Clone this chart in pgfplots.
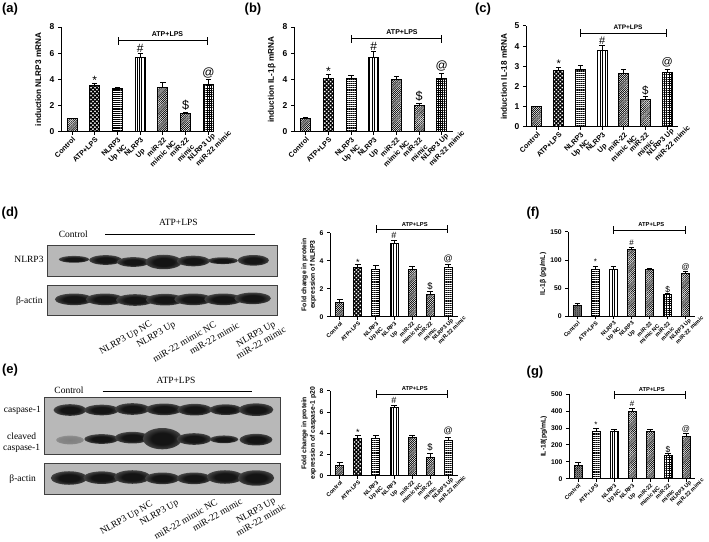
\documentclass[border=0pt]{standalone}
\usepackage{fontspec}
\setmainfont{Liberation Sans}
\newfontfamily\serifb{Liberation Serif}
\usepackage{pgfplots}
\pgfplotsset{compat=1.18}
\usetikzlibrary{patterns.meta}
\newcommand\fs[2]{\fontsize{#1}{#2}\selectfont}
% two-line tick label: the block is as wide as its first line, the second line centred under it
\newcommand\twol[2]{\setbox0=\hbox{#1}\vbox{\hbox to\wd0{#1}\hbox to\wd0{\hss #2\hss}}}
\newcommand\twols[2]{\setbox0=\hbox{#1}\vbox{\hbox to\dimexpr\wd0-.7em\relax{#1\hss}\hbox to\dimexpr\wd0-.7em\relax{\hss\kern2.9em #2\hss}}}
\definecolor{blotbg}{gray}{0.72}
\definecolor{blotdk}{gray}{0.08}
\pgfdeclareradialshading{band}{\pgfpoint{0bp}{0bp}}{color(0bp)=(blotdk);color(14bp)=(blotdk);color(28bp)=(blotdk!65!blotbg);color(40bp)=(blotdk!18!blotbg);color(50bp)=(blotbg);color(100bp)=(blotbg)}
\pgfdeclareradialshading{bandlt}{\pgfpoint{0bp}{0bp}}{color(0bp)=(blotdk!35!blotbg);color(20bp)=(blotdk!30!blotbg);color(50bp)=(blotbg);color(100bp)=(blotbg)}
\newcommand\band[4]{\path[shading=band] (#1/3,#2/3) ellipse ({#3/3*1.3} and {#4/3*1.45});}
\newcommand\bandlt[4]{\path[shading=bandlt] (#1/3,#2/3) ellipse ({#3/3*1.3} and {#4/3*1.45});}
\pgfplotsset{
 diag/.style={pattern={Lines[angle=45,distance=1.5pt,line width=.7pt]},pattern color=black},
 diagd/.style={pattern={Lines[angle=45,distance=1.4pt,line width=.9pt]},pattern color=black},
 chk/.style={pattern={Hatch[angle=45,distance=2.8pt,line width=1.2pt]},pattern color=black},
 hor/.style={pattern={Lines[angle=0,distance=1.9pt,line width=.4pt]},pattern color=black},
 ver/.style={pattern={Lines[angle=90,distance=2.4pt,line width=.5pt]},pattern color=black},
 grd/.style={pattern={Hatch[angle=0,distance=2.2pt,line width=.5pt]},pattern color=black},
 bb/.style={ybar,bar shift=0pt,draw=black,line width=1pt,error bars/.cd,y dir=plus,y explicit,
   error bar style={line width=1pt,black},error mark options={rotate=90,mark size=2.6pt,line width=1pt,black}},
 common/.style={scale only axis,axis x line=bottom,axis y line=left,
   axis line style={-,line width=1pt,black},tick align=outside,major tick length=3pt,
   every tick/.style={black,line width=1pt},xtick={0,1,2,3,4,5,6},
   xticklabels={Control,ATP+LPS,{\twol{NLRP3}{Up NC}},{\twol{NLRP3}{Up}},{\twol{miR-22}{mimic NC}},{\twol{miR-22}{mimic}},{\twols{NLRP3 Up}{miR-22 mimic}}},
   x tick label style={rotate=45,anchor=north east,inner sep=1pt},
   ymin=0,clip=false,enlargelimits=false,
   /pgf/number format/assume math mode=true,scaled y ticks=false},
 big/.style={common,bar width=10pt,
   tick label style={font=\bfseries\fs{7.2}{9.2}},
   y tick label style={font=\bfseries\fs{8.5}{9}},
   ylabel style={font=\bfseries\fs{8.2}{10}}},
 small/.style={common,bar width=8pt,
   x tick label style={font=\bfseries\fs{5.6}{7}},
   y tick label style={font=\bfseries\fs{6.8}{8}},
   ylabel style={font=\bfseries\fs{6.8}{8.6},align=center}},
}
\newcommand\atp[4]{%
 \draw[line width=1pt,|-|] (axis cs:2,#2)--(axis cs:6,#2);
 \node[font=\bfseries\fs{#4}{#4}] at (axis cs:#1,#3) {ATP+LPS};}
\newcommand\sym[5]{%
 \node[font=\fs{#1}{#1}] at (axis cs:1,#2) {*};
 \node[font=\fs{#1}{#1}] at (axis cs:3,#3) {\#};
 \node[font=\fs{#1}{#1},scale=1.05] at (axis cs:5,#4) {\$};
 \node[font=\fs{#1}{#1}] at (axis cs:6,#5) {@};}
\begin{document}
\begin{tikzpicture}[x=1pt,y=1pt]
\path[use as bounding box] (0,0) rectangle (709,541);
% ---------- (a)
\begin{axis}[big,at={(61pt,409pt)},width=152pt,height=105pt,xmin=-0.485,xmax=6.2,ymax=8,ytick={0,2,4,6,8},
  ylabel={induction NLRP3 mRNA},ylabel style={at={(axis description cs:-0.15,0.5)},anchor=center}]
\addplot[diag,bb] coordinates {(0,1) +- (0,0.05)};
\addplot[chk,bb] coordinates {(1,3.55) +- (0,0.15)};
\addplot[hor,bb] coordinates {(2,3.35) +- (0,0.05)};
\addplot[ver,bb] coordinates {(3,5.65) +- (0,0.3)};
\addplot[diag,bb] coordinates {(4,3.4) +- (0,0.35)};
\addplot[diag,bb] coordinates {(5,1.4) +- (0,0.05)};
\addplot[grd,bb] coordinates {(6,3.65) +- (0,0.35)};
\atp{4.2}{6.94}{7.44}{7}
\sym{12}{3.95}{6.4}{2.0}{4.5}
\end{axis}
% ---------- (b)
\begin{axis}[big,at={(294pt,409pt)},width=159pt,height=105pt,xmin=-0.52,xmax=6.5,ymax=8,ytick={0,2,4,6,8},
  ylabel={induction IL-1β  mRNA},ylabel style={at={(axis description cs:-0.14,0.5)},anchor=center}]
\addplot[diag,bb] coordinates {(0,1) +- (0,0.07)};
\addplot[chk,bb] coordinates {(1,4.05) +- (0,0.35)};
\addplot[hor,bb] coordinates {(2,4.05) +- (0,0.28)};
\addplot[ver,bb] coordinates {(3,5.65) +- (0,0.45)};
\addplot[diag,bb] coordinates {(4,4.0) +- (0,0.2)};
\addplot[diag,bb] coordinates {(5,2.0) +- (0,0.15)};
\addplot[grd,bb] coordinates {(6,4.05) +- (0,0.4)};
\atp{4.25}{7.11}{7.62}{7}
\sym{12}{4.63}{6.53}{2.75}{5.0}
\end{axis}
% ---------- (c)
\begin{axis}[big,at={(526pt,414pt)},width=152pt,height=101pt,xmin=-0.505,xmax=6.5,ymax=5,ytick={0,1,2,3,4,5},
  ylabel={induction IL-18 mRNA},ylabel style={at={(axis description cs:-0.145,0.5)},anchor=center}]
\addplot[diag,bb] coordinates {(0,1) +- (0,0.02)};
\addplot[chk,bb] coordinates {(1,2.78) +- (0,0.18)};
\addplot[hor,bb] coordinates {(2,2.87) +- (0,0.18)};
\addplot[ver,bb] coordinates {(3,3.8) +- (0,0.22)};
\addplot[diag,bb] coordinates {(4,2.67) +- (0,0.18)};
\addplot[diag,bb] coordinates {(5,1.37) +- (0,0.12)};
\addplot[grd,bb] coordinates {(6,2.72) +- (0,0.15)};
\atp{4.2}{4.65}{4.95}{6.5}
\sym{11}{3.12}{4.27}{1.78}{3.2}
\end{axis}
% ---------- chart of (d)
\begin{axis}[small,at={(330pt,224.3pt)},width=128pt,height=84pt,xmin=-0.55,xmax=6.55,ymax=6,ytick={0,2,4,6},
  ylabel={Fold change in protein\\expression of NLRP3},ylabel style={at={(axis description cs:-0.165,0.5)},anchor=center}]
\addplot[diag,bb] coordinates {(0,1) +- (0,0.25)};
\addplot[chk,bb] coordinates {(1,3.5) +- (0,0.2)};
\addplot[hor,bb] coordinates {(2,3.4) +- (0,0.28)};
\addplot[ver,bb] coordinates {(3,5.2) +- (0,0.27)};
\addplot[diag,bb] coordinates {(4,3.35) +- (0,0.25)};
\addplot[diag,bb] coordinates {(5,1.6) +- (0,0.22)};
\addplot[hor,bb] coordinates {(6,3.5) +- (0,0.25)};
\atp{4.15}{6.24}{6.62}{5.8}
\sym{9}{3.88}{5.78}{2.19}{4.14}
\end{axis}
% ---------- (f)
\begin{axis}[small,at={(568.3pt,224.7pt)},width=126.4pt,height=84.3pt,xmin=-0.5,xmax=6.5,ymax=150,ytick={0,50,100,150},
  ylabel={IL-1β (pg/mL)},ylabel style={at={(axis description cs:-0.2,0.5)},anchor=center}]
\addplot[diagd,bb] coordinates {(0,20) +- (0,3)};
\addplot[hor,bb] coordinates {(1,84) +- (0,4)};
\addplot[ver,bb] coordinates {(2,84) +- (0,4)};
\addplot[diag,bb] coordinates {(3,118) +- (0,4)};
\addplot[diag,bb] coordinates {(4,83) +- (0,2)};
\addplot[grd,bb] coordinates {(5,38) +- (0,3)};
\addplot[diag,bb] coordinates {(6,77) +- (0,3)};
\atp{4.1}{153.5}{163.6}{5.8}
\sym{8}{96.6}{131.6}{48}{88}
\end{axis}
% ---------- chart of (e)
\begin{axis}[small,at={(330pt,65.3pt)},width=128pt,height=84.7pt,xmin=-0.55,xmax=6.55,ymax=8,ytick={0,2,4,6,8},
  ylabel={Fold change in protein\\expression of caspase-1 p20},ylabel style={at={(axis description cs:-0.165,0.5)},anchor=center}]
\addplot[diag,bb] coordinates {(0,1) +- (0,0.27)};
\addplot[chk,bb] coordinates {(1,3.5) +- (0,0.25)};
\addplot[hor,bb] coordinates {(2,3.55) +- (0,0.27)};
\addplot[ver,bb] coordinates {(3,6.45) +- (0,0.2)};
\addplot[diag,bb] coordinates {(4,3.6) +- (0,0.22)};
\addplot[diag,bb] coordinates {(5,1.75) +- (0,0.3)};
\addplot[hor,bb] coordinates {(6,3.3) +- (0,0.27)};
\atp{4.15}{7.68}{8.19}{5.8}
\sym{9}{4.06}{7.15}{2.65}{4.19}
\end{axis}
% ---------- (g)
\begin{axis}[small,at={(569pt,62.3pt)},width=126pt,height=84.4pt,xmin=-0.5,xmax=6.5,ymax=500,ytick={0,100,200,300,400,500},
  ylabel={IL-18(pg/mL)},ylabel style={at={(axis description cs:-0.2,0.5)},anchor=center}]
\addplot[diagd,bb] coordinates {(0,80) +- (0,18)};
\addplot[hor,bb] coordinates {(1,280) +- (0,17)};
\addplot[ver,bb] coordinates {(2,280) +- (0,12)};
\addplot[diag,bb] coordinates {(3,400) +- (0,15)};
\addplot[diag,bb] coordinates {(4,280) +- (0,12)};
\addplot[grd,bb] coordinates {(5,135) +- (0,15)};
\addplot[diag,bb] coordinates {(6,250) +- (0,18)};
\atp{4.1}{498}{531}{5.8}
\sym{8}{322}{443}{170}{296}
\end{axis}
% ---------- panel letters
\begin{scope}[x=1pt,y=-1pt,shift={(0pt,541pt)}]
\foreach \l/\px/\py in {a/10/9,b/253/9,c/483/9,d/10/213,e/10/370,f/533/213,g/535/372}
  \node[font=\bfseries\fs{13}{13}] at (\px,\py) {(\l)};
% ---------- blot of (d)
\begin{scope}[yshift=-200pt]
\fill[blotbg] (142/3,135/3) rectangle (833/3,230/3);
\fill[blotbg] (142/3,257/3) rectangle (833/3,347/3);
\band{222}{178}{35}{7}\band{317}{180}{38}{10}\band{400}{186}{38}{10}\band{491}{186}{42}{15}\band{580}{183}{38}{11}\band{668}{182}{35}{7}\band{760}{181}{36}{11}
\band{222}{298}{44}{12}\band{315}{298}{44}{12}\band{405}{300}{44}{12}\band{495}{299}{44}{12}\band{580}{298}{44}{12}\band{670}{298}{44}{12}\band{758}{295}{42}{12}
\draw[line width=.8pt,black!75] (142/3,135/3) rectangle (833/3,230/3);
\draw[line width=.8pt,black!75] (142/3,257/3) rectangle (833/3,347/3);
\begin{scope}[font=\serifb\fs{9.5}{10.5}]
\node at (87/3,178/3) {NLRP3};
\node at (88/3,303/3) {β-actin};
\node at (220/3,103/3) {Control};
\node at (535/3,67/3) {ATP+LPS};
\node[rotate=30] at (378/3,415/3) {NLRP3 Up NC};
\node[rotate=30] at (469/3,405/3) {NLRP3 Up};
\node[rotate=30] at (553/3,425/3) {miR-22 mimic NC};
\node[rotate=30] at (643/3,415/3) {miR-22 mimic};
\node[rotate=30,align=center] at (775/3,415/3) {NLRP3 Up\\miR-22 mimic};
\end{scope}
\draw[line width=.8pt] (315/3,103/3)--(765/3,103/3);
\end{scope}
% ---------- blot of (e)
\begin{scope}[yshift=-360pt]
\fill[blotbg] (133/3,112/3) rectangle (840/3,283/3);
\fill[blotbg] (133/3,309/3) rectangle (842/3,402/3);
\band{210}{150}{38}{12}\band{305}{150}{40}{11}\band{397}{147}{40}{12}\band{492}{148}{42}{12}\band{584}{149}{40}{12}\band{677}{149}{38}{11}\band{768}{149}{40}{13}
\bandlt{210}{240}{32}{9}\band{305}{237}{40}{10}\band{397}{233}{40}{12}\band{487}{236}{45}{22}\band{582}{237}{40}{12}\band{672}{238}{33}{8}\band{768}{239}{38}{12}
\band{207}{354}{42}{14}\band{305}{353}{42}{13}\band{397}{351}{42}{14}\band{487}{355}{40}{12}\band{582}{355}{40}{12}\band{675}{351}{42}{14}\band{768}{354}{42}{16}
\draw[line width=.8pt,black!75] (133/3,112/3) rectangle (840/3,283/3);
\draw[line width=.8pt,black!75] (133/3,309/3) rectangle (842/3,402/3);
\begin{scope}[font=\serifb\fs{9.5}{10.5}]
\node at (67/3,150/3) {caspase-1};
\node at (65/3,230/3) {cleaved};
\node at (65/3,264/3) {caspase-1};
\node at (68/3,357/3) {β-actin};
\node at (207/3,90/3) {Control};
\node at (528/3,60/3) {ATP+LPS};
\node[rotate=30] at (380/3,475/3) {NLRP3 Up NC};
\node[rotate=30] at (478/3,460/3) {NLRP3 Up};
\node[rotate=30] at (557/3,478/3) {miR-22 mimic NC};
\node[rotate=30] at (652/3,465/3) {miR-22 mimic};
\node[rotate=30,align=center] at (775/3,465/3) {NLRP3 Up\\miR-22 mimic};
\end{scope}
\draw[line width=.8pt] (308/3,95/3)--(757/3,95/3);
\end{scope}
\end{scope}
\end{tikzpicture}
\end{document}
